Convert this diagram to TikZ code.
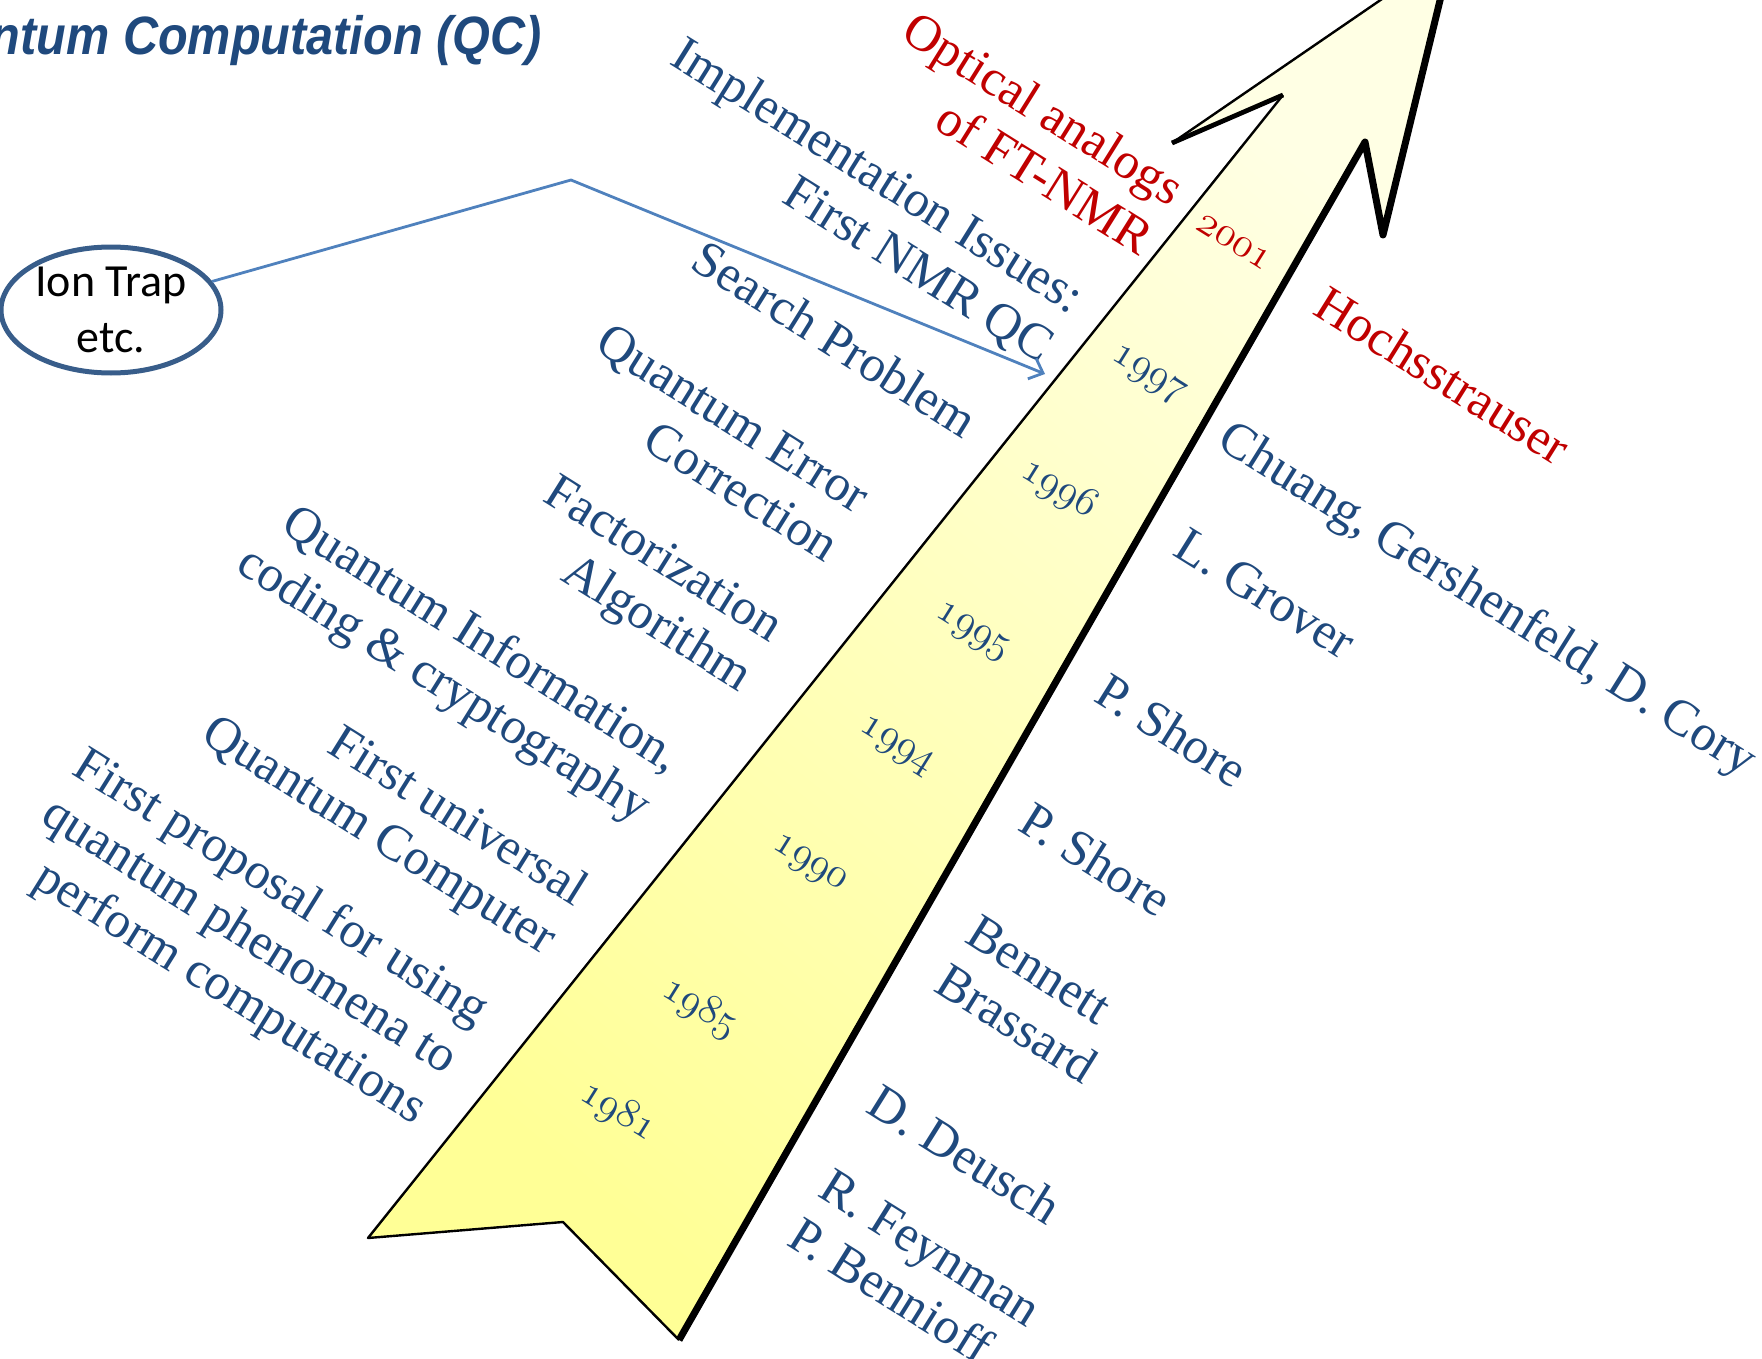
\documentclass[tikz,border=0pt]{standalone}
\usepackage{fontspec}
\setmainfont{Liberation Serif}
\newfontfamily\ionfont{Carlito}
\newfontfamily\headfont{Liberation Sans}
\usetikzlibrary{arrows.meta,shapes.geometric}

\definecolor{qcblue}{RGB}{31,73,125}
\definecolor{qcred}{RGB}{192,0,0}
\definecolor{ionblue}{RGB}{56,93,138}
\definecolor{linkblue}{RGB}{79,129,189}
\definecolor{arrowlow}{RGB}{255,255,150}
\definecolor{arrowhigh}{RGB}{255,255,228}

\begin{document}
\begin{tikzpicture}[x=0.5pt, y=-0.5pt,
	event/.style={text=qcblue, rotate=-32, inner sep=0pt, font=\fontsize{25.5}{29}\selectfont},
	left event/.style={event, anchor=east, align=right},
	right event/.style={event, anchor=west, align=left},
	year/.style={text=qcblue, rotate=-32, inner sep=0pt, font=\fontsize{21.5}{24}\selectfont},
	thin edge/.style={draw=black, line width=1.2pt, line join=round},
	thick edge/.style={draw=black, line width=3.5pt, line join=round},
	iontrap/.style={ellipse, draw=ionblue, line width=2.5pt, minimum width=110pt, minimum height=63pt, inner sep=0pt, align=center, font=\ionfont\fontsize{23}{28}\selectfont},
	link/.style={draw=linkblue, line width=1.4pt, -{Straight Barb[length=6pt,width=11pt]}}]

	\useasboundingbox (0,0) rectangle (1762,1359);
	\clip (0,0) rectangle (1762,1359);

	% the time arrow
	\coordinate (tailL) at (368,1238);
	\coordinate (tailN) at (563,1222);
	\coordinate (tailR) at (679,1340);
	\coordinate (notchR) at (1365,142);
	\coordinate (barbR) at (1383,235);
	\coordinate (tip) at (1452,-49);
	\coordinate (barbL) at (1172,143);
	\coordinate (notchL) at (1283,95);

	\shade [bottom color=arrowlow, top color=arrowhigh, shading angle=-39]
		(tailL) -- (tailN) -- (tailR) -- (notchR) -- (barbR) -- (tip) -- (barbL) -- (notchL) -- cycle;
	\draw [thin edge] (barbL) -- (tip);
	\draw [thick edge] (tip) -- (barbR) -- (notchR) -- (tailR);
	\draw [thin edge, line width=2.4pt] (barbL) -- (notchL);
	\draw [thin edge] (notchL) -- (tailL) -- (tailN) -- (tailR);

	\node [anchor=base east, text=qcblue, xscale=0.9, font=\headfont\bfseries\itshape\fontsize{27}{32}\selectfont] (title) at (548,55) {Quantum Computation (QC)};

	% years along the arrow
	\foreach \yr/\px/\py [count=\i] in {1981/618/1112, 1985/700/1008, 1990/809/865, 1994/896/747, 1995/972/633, 1996/1059/489, 1997/1148/376}
		\node [year] (year-\i) at (\px,\py) {$\mathnormal{\yr}$};
	\node [year, text=qcred] (year-8) at (1234,242) {$\mathnormal{2001}$};

	% what happened
	\node [left event, text=qcred] (optical) at (1164,217) {Optical analogs\\of FT-NMR};
	\node [left event] (implement) at (1063,328) {Implementation Issues:\\First NMR QC};
	\node [left event] (search) at (973,425) {Search Problem};
	\node [left event] (qec) at (850,525) {Quantum Error\\Correction};
	\node [left event] (factor) at (761,658) {Factorization\\Algorithm};
	\node [left event] (qinfo) at (660,788) {Quantum Information,\\coding \& cryptography};
	\node [left event] (universal) at (566,921) {First universal\\Quantum Computer};
	\node [left event] (proposal) at (452,1065) {First proposal for using\\quantum phenomena to\\perform computations};

	% who did it
	\node [right event, text=qcred] (hoch) at (1320,298) {Hochsstrauser};
	\node [right event] (chuang) at (1222,436) {Chuang, Gershenfeld, D. Cory};
	\node [right event] (grover) at (1180,540) {L. Grover};
	\node [right event] (shore-2) at (1101,686) {P. Shore};
	\node [right event] (shore-1) at (1025,815) {P. Shore};
	\node [right event] (bennett) at (956,952) {Bennett\\Brassard};
	\node [right event] (deusch) at (873,1097) {D. Deusch};
	\node [right event] (feynman) at (809,1206) {R. Feynman\\P. Bennioff};

	% ion trap pointer
	\node [iontrap] (ion) at (111,310) {Ion Trap\\etc.};
	\coordinate (bend) at (571,180);
	\coordinate (nmr-end) at (1045,374);
	\draw [link] (ion) -- (bend) -- (nmr-end);

\end{tikzpicture}
\end{document}
